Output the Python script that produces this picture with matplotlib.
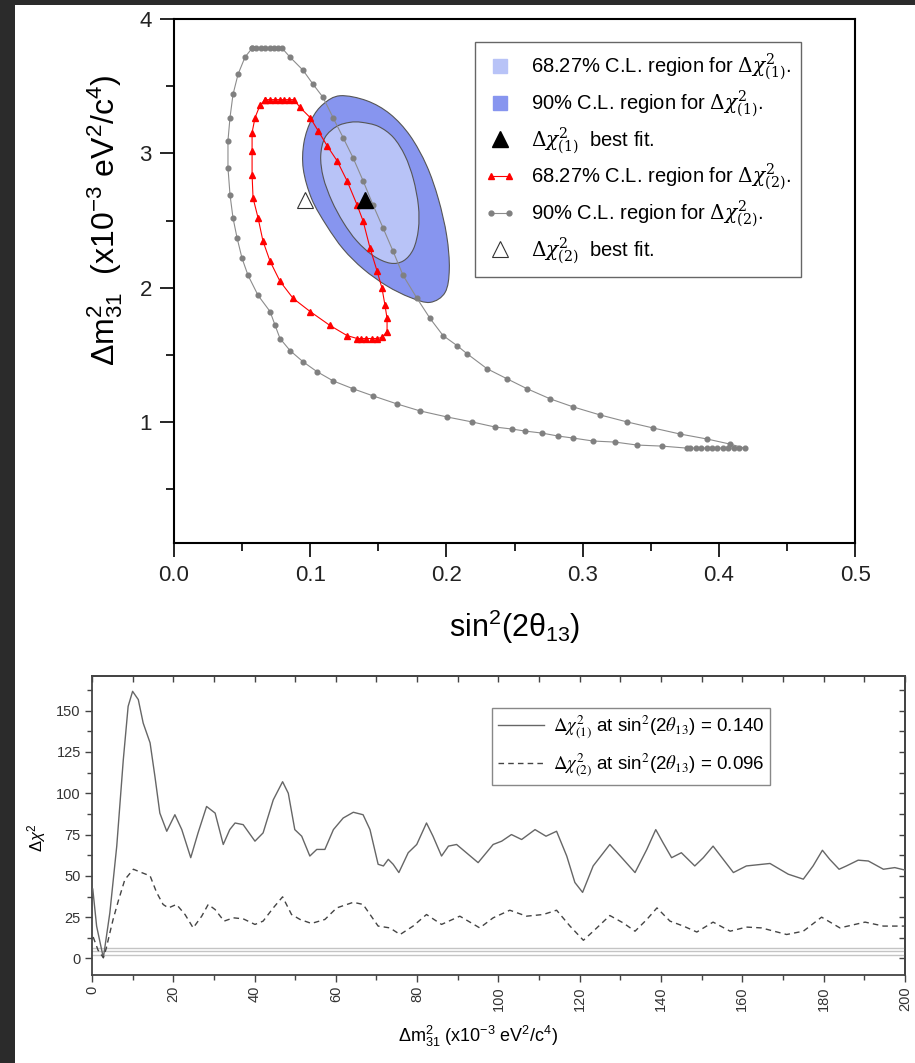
import numpy as np
import matplotlib
matplotlib.use("Agg")
import matplotlib.pyplot as plt
from matplotlib.lines import Line2D
from matplotlib.patches import Rectangle, PathPatch
from matplotlib.path import Path
from matplotlib.legend_handler import HandlerLine2D
from matplotlib.font_manager import FontProperties
from matplotlib.ticker import MultipleLocator, FormatStrFormatter

plt.rcParams['font.family'] = ['Liberation Sans', 'DejaVu Sans']
plt.rcParams['mathtext.fontset'] = 'custom'
plt.rcParams['mathtext.rm'] = 'Liberation Sans'
plt.rcParams['mathtext.it'] = 'Liberation Sans:italic'
plt.rcParams['mathtext.bf'] = 'Liberation Sans:bold'
plt.rcParams['mathtext.sf'] = 'Liberation Sans'

# ---- top panel data: sin^2(2theta13) vs dm^2_31 (1e-3 eV^2) ----
# chi2_(1) confidence regions, boundary points
c90_x = [0.1219, 0.1415, 0.1586, 0.1733, 0.1855, 0.1941, 0.2002, 0.2021, 0.1990, 0.1880,
         0.1733, 0.1562, 0.1390, 0.1243, 0.1121, 0.1011, 0.0949, 0.0954, 0.1011, 0.1096]
c90_y = [3.429, 3.392, 3.293, 3.131, 2.908, 2.660, 2.386, 2.139, 1.965, 1.891,
         1.928, 2.014, 2.139, 2.287, 2.461, 2.660, 2.883, 3.082, 3.255, 3.367]
c68_x = [0.1378, 0.1500, 0.1610, 0.1696, 0.1757, 0.1794, 0.1794, 0.1757, 0.1684, 0.1586,
         0.1463, 0.1341, 0.1243, 0.1158, 0.1096, 0.1077, 0.1109, 0.1195, 0.1292]
c68_y = [3.231, 3.201, 3.119, 2.982, 2.809, 2.610, 2.436, 2.287, 2.200, 2.183,
         2.238, 2.349, 2.486, 2.647, 2.821, 2.982, 3.119, 3.201, 3.231]

fit_1 = (0.140, 2.65)
fit_2 = (0.096, 2.65)

red_x = [0.0668, 0.0705, 0.0740, 0.0775, 0.0810, 0.0845, 0.0881,
         0.0925, 0.0999, 0.1057, 0.1123, 0.1197, 0.1270, 0.1344, 0.1388, 0.1439,
         0.1491, 0.1527, 0.1549, 0.1564, 0.1564,
         0.1527, 0.1490, 0.1450, 0.1410, 0.1375, 0.1344,
         0.1270, 0.1145, 0.0999, 0.0874, 0.0778, 0.0705, 0.0653, 0.0617, 0.0580,
         0.0573, 0.0573, 0.0573, 0.0595, 0.0631, 0.0668]
red_y = [3.40, 3.40, 3.40, 3.40, 3.40, 3.40, 3.40,
         3.342, 3.267, 3.170, 3.058, 2.945, 2.796, 2.616, 2.497, 2.295,
         2.123, 1.996, 1.868, 1.771, 1.674,
         1.630, 1.622, 1.622, 1.622, 1.622, 1.622,
         1.644, 1.719, 1.823, 1.921, 2.048, 2.197, 2.347, 2.519, 2.669,
         2.841, 3.020, 3.155, 3.267, 3.357, 3.40]

gray_x = [0.0573, 0.0605, 0.0637, 0.0669, 0.0701, 0.0733, 0.0765, 0.0793,
          0.0852, 0.0947, 0.1021, 0.1094, 0.1167, 0.1241, 0.1314, 0.1388, 0.1461,
          0.1535, 0.1608, 0.1681, 0.1784, 0.1880, 0.1975, 0.2078, 0.2151, 0.2298,
          0.2445, 0.2592, 0.2761, 0.2930, 0.3128, 0.3326, 0.3517, 0.3715, 0.3913, 0.4082,
          0.4192, 0.4150, 0.4110, 0.4070, 0.4030, 0.3990, 0.3950, 0.3910, 0.3870,
          0.3830, 0.3790, 0.3767,
          0.3583, 0.3399, 0.3238, 0.3076, 0.2930, 0.2819, 0.2702, 0.2577, 0.2482,
          0.2357, 0.2188, 0.2004, 0.1806, 0.1637, 0.1461, 0.1314, 0.1167, 0.1050,
          0.0947, 0.0852, 0.0778, 0.0742, 0.0705, 0.0617, 0.0543, 0.0499, 0.0463,
          0.0433, 0.0411, 0.0396, 0.0396, 0.0411, 0.0433, 0.0470, 0.0521, 0.0573]
gray_y = [3.783, 3.783, 3.783, 3.783, 3.783, 3.783, 3.783, 3.783,
          3.716, 3.619, 3.514, 3.417, 3.267, 3.118, 2.968, 2.796, 2.616,
          2.444, 2.272, 2.093, 1.921, 1.771, 1.644, 1.569, 1.509, 1.397,
          1.322, 1.248, 1.173, 1.113, 1.053, 1.001, 0.956, 0.911, 0.874, 0.836,
          0.806, 0.806, 0.806, 0.806, 0.806, 0.806, 0.806, 0.806, 0.806,
          0.806, 0.806, 0.806,
          0.821, 0.829, 0.851, 0.859, 0.881, 0.896, 0.918, 0.933, 0.948,
          0.963, 1.001, 1.038, 1.083, 1.135, 1.195, 1.248, 1.307, 1.375,
          1.449, 1.532, 1.622, 1.720, 1.823, 1.943, 2.093, 2.220, 2.370,
          2.519, 2.691, 2.893, 3.095, 3.267, 3.439, 3.589, 3.716, 3.783]

# ---- bottom panel data: delta chi2 vs dm^2_31 ----
solid_pts = [(0.2, 42), (1.15, 19.5), (2.8, 0.4), (4.4, 27.6), (6.1, 68), (7.7, 120),
             (8.9, 152.6), (10.0, 161.7), (11.4, 156.7), (12.6, 142.5), (14.3, 130.5),
             (15.5, 110), (16.7, 88), (18.4, 77), (20.4, 87), (22.1, 78), (24.3, 61),
             (26.1, 76), (28.2, 92), (30.3, 88), (32.3, 69), (33.9, 78), (35.2, 82),
             (37.2, 81), (40.1, 71), (42.1, 76), (44.6, 96), (46.9, 107), (48.3, 100),
             (49.9, 78), (51.6, 74), (53.6, 62), (55.3, 66), (57.3, 66), (59.4, 78),
             (61.8, 85), (64.3, 88.5), (66.7, 87), (68.4, 78), (70.4, 57), (71.7, 56),
             (72.9, 60), (74.1, 57), (75.5, 52), (77.8, 64), (79.9, 69), (82.3, 82),
             (83.9, 74), (86.0, 62), (87.7, 68), (89.7, 69), (95.0, 58), (98.7, 69),
             (100.8, 71), (103.2, 75), (105.7, 72), (109.0, 78), (111.7, 74), (114.3, 77),
             (116.8, 62), (118.8, 46), (120.7, 40), (123.3, 56), (127.4, 69), (130.7, 60),
             (133.6, 52), (136.5, 66), (138.7, 78), (140.5, 70), (142.6, 61), (145.0, 64),
             (148.3, 56), (150.4, 61), (152.8, 68), (155.3, 60), (157.8, 52), (161.0, 56),
             (166.8, 57.5), (171.3, 51), (175.0, 48), (177.4, 56), (179.7, 65.5),
             (181.5, 60), (183.8, 54), (185.6, 56), (188.5, 59.5), (191.0, 59),
             (194.7, 54), (197.5, 55), (200.0, 53.5)]
dashed_pts = [(0.3, 13), (1.5, 5), (2.8, 0.5), (3.5, 6), (4.4, 15.5), (5.2, 23.6),
              (6.5, 35), (8.1, 47.8), (10.2, 54), (12.2, 52), (14.3, 50), (15.9, 40),
              (17.5, 32.7), (18.8, 30.6), (20.8, 32.7), (22.9, 26.6), (24.9, 18.5),
              (27.0, 25.6), (28.6, 32.7), (30.3, 29.6), (32.5, 22.6), (34.8, 24.6),
              (37.2, 24), (40.1, 20.6), (42.1, 22.6), (44.6, 30.6), (46.9, 37.3),
              (49.1, 26.6), (51.2, 23.6), (54.0, 21.2), (57.3, 23.6), (60.2, 30.6),
              (64.3, 34), (66.7, 32.7), (70.4, 19.6), (73.3, 18.5), (75.8, 14.5),
              (79.0, 19.6), (82.3, 26.6), (86.0, 20.6), (90.5, 25.6), (95.4, 18.5),
              (98.7, 24.6), (102.8, 29.2), (106.9, 25.6), (111.0, 26.6), (114.3, 29.2),
              (117.6, 19.6), (120.9, 11), (124.2, 18.5), (127.4, 26), (130.7, 21.5),
              (133.6, 16.5), (136.5, 23.6), (139.0, 30.6), (142.2, 22.6), (145.5, 19.6),
              (148.8, 16), (152.8, 22), (157.0, 16.5), (161.0, 19), (164.7, 18.5),
              (170.9, 14.5), (175.0, 16.5), (179.5, 25), (184.0, 18.5), (190.2, 22),
              (194.7, 19.6), (200.0, 19.6)]
cl_levels = [2.30, 4.61, 6.18]


def closed_smooth_path(xs, ys):
    # closed Catmull-Rom curve through the points, as cubic Bezier segments
    p = np.column_stack([xs, ys])
    n = len(p)
    verts = [p[0]]
    codes = [Path.MOVETO]
    for i in range(n):
        p0, p1, p2, p3 = p[i - 1], p[i], p[(i + 1) % n], p[(i + 2) % n]
        verts += [p1 + (p2 - p0) / 6, p2 - (p3 - p1) / 6, p2]
        codes += [Path.CURVE4] * 3
    verts.append(p[0])
    codes.append(Path.CLOSEPOLY)
    return Path(verts, codes)


fig = plt.figure(figsize=(9.15, 10.63), dpi=100)
fig.patch.set_facecolor('#2b2b2b')
fig.add_artist(Rectangle((15 / 915, 0), 1, 1 - 5 / 1063, transform=fig.transFigure,
                         facecolor='white', edgecolor='none', zorder=-10))

# ---------------- top panel ----------------
ax1 = fig.add_axes([0.1902, 0.4892, 0.7443, 0.4929])
c_light = '#b8c3f7'
c_dark = '#8795ef'
ax1.add_patch(PathPatch(closed_smooth_path(c90_x, c90_y), facecolor=c_dark,
                        edgecolor='#555555', lw=0.8, zorder=1))
ax1.add_patch(PathPatch(closed_smooth_path(c68_x, c68_y), facecolor=c_light,
                        edgecolor='#555555', lw=0.8, zorder=2))
ax1.plot(gray_x, gray_y, '-', color='#8c8c8c', lw=0.8, marker='o', ms=3.4,
         mfc='#808080', mec='#808080', zorder=3)
ax1.plot(red_x, red_y, '-', color='red', lw=0.8, marker='^', ms=4.4,
         mfc='red', mec='red', zorder=4)
ax1.plot(*fit_1, ls='none', marker='^', ms=11, mfc='black', mec='black', zorder=5)
ax1.plot(*fit_2, ls='none', marker='^', ms=11, mfc='white', mec='#333333', mew=0.8, zorder=5)

ax1.set_xlim(0, 0.5)
ax1.set_ylim(0.1, 4.0)
ax1.xaxis.set_major_locator(MultipleLocator(0.1))
ax1.xaxis.set_minor_locator(MultipleLocator(0.05))
ax1.yaxis.set_major_locator(MultipleLocator(1))
ax1.yaxis.set_minor_locator(MultipleLocator(0.5))
ax1.xaxis.set_major_formatter(FormatStrFormatter('%.1f'))
ax1.yaxis.set_major_formatter(FormatStrFormatter('%d'))
ax1.tick_params(which='major', direction='out', length=10, width=1.2,
                labelsize=16, pad=6, labelcolor='#222222')
ax1.tick_params(which='minor', direction='out', length=6, width=1.2)
for s in ax1.spines.values():
    s.set_linewidth(1.5)

ax1.set_xlabel(r"sin$^2$(2$\mathrm{\theta}_{13}$)", fontsize=22)
ax1.xaxis.set_label_coords(0.50, -0.123)
ax1.set_ylabel(r"$\Delta\mathrm{m}^2_{31}$  (x10$^{-3}$ eV$^2$/c$^4$)", fontsize=23)
ax1.yaxis.set_label_coords(-0.072, 0.616)

h1 = Line2D([], [], ls='none', marker='s', ms=10, mfc=c_light, mec=c_light)
h2 = Line2D([], [], ls='none', marker='s', ms=10, mfc=c_dark, mec=c_dark)
h3 = Line2D([], [], ls='none', marker='^', ms=11, mfc='black', mec='black')
h4 = Line2D([], [], ls='-', color='red', lw=0.8, marker='^', ms=4, mfc='red', mec='red')
h5 = Line2D([], [], ls='-', color='#8c8c8c', lw=0.8, marker='o', ms=3.5,
            mfc='#808080', mec='#808080')
h6 = Line2D([], [], ls='none', marker='^', ms=11, mfc='white', mec='#333333', mew=0.8)
labels = [r"68.27% C.L. region for $\Delta\chi^2_{(1)}$.",
          r"90% C.L. region for $\Delta\chi^2_{(1)}$.",
          r"$\Delta\chi^2_{(1)}$  best fit.",
          r"68.27% C.L. region for $\Delta\chi^2_{(2)}$.",
          r"90% C.L. region for $\Delta\chi^2_{(2)}$.",
          r"$\Delta\chi^2_{(2)}$  best fit."]
hmap = {h1: HandlerLine2D(numpoints=1), h2: HandlerLine2D(numpoints=1),
        h3: HandlerLine2D(numpoints=1), h4: HandlerLine2D(numpoints=2),
        h5: HandlerLine2D(numpoints=2), h6: HandlerLine2D(numpoints=1)}
leg1 = ax1.legend([h1, h2, h3, h4, h5, h6], labels, handler_map=hmap,
                  loc='upper left', bbox_to_anchor=(0.442, 0.956),
                  prop=FontProperties(family='Liberation Sans', size=14.5,
                                      math_fontfamily='dejavuserif'),
                  frameon=True, fancybox=False, framealpha=1, edgecolor='#666666',
                  labelspacing=0.28, handlelength=1.5, handletextpad=0.8,
                  borderpad=0.5, borderaxespad=0)
leg1.get_frame().set_linewidth(1.0)

# ---------------- bottom panel ----------------
ax2 = fig.add_axes([0.1005, 0.0828, 0.8885, 0.2813])
for lev in cl_levels:
    ax2.axhline(lev, color='#c4c4c4', lw=1.0, zorder=1)
sx, sy = zip(*solid_pts)
dx, dy = zip(*dashed_pts)
ax2.plot(sx, sy, '-', color='#666666', lw=1.0, zorder=3,
         label=r"$\Delta\chi^2_{(1)}$ at sin$^2$(2$\theta_{13}$) = 0.140")
ax2.plot(dx, dy, '--', color='#444444', lw=1.0, dashes=(4, 3), zorder=3,
         label=r"$\Delta\chi^2_{(2)}$ at sin$^2$(2$\theta_{13}$) = 0.096")
ax2.set_xlim(0, 200)
ax2.set_ylim(-10, 171)
ax2.xaxis.set_major_locator(MultipleLocator(20))
ax2.xaxis.set_minor_locator(MultipleLocator(10))
ax2.yaxis.set_major_locator(MultipleLocator(25))
ax2.yaxis.set_minor_locator(MultipleLocator(12.5))
ax2.tick_params(which='major', direction='out', length=5, width=1.0, color='#444444',
                labelsize=10.5, labelcolor='#333333', pad=3)
ax2.tick_params(which='minor', direction='out', length=3.5, width=1.0, color='#444444')
ax2.tick_params(axis='x', which='major', labelrotation=90)
for s in ax2.spines.values():
    s.set_linewidth(1.3)
    s.set_color('#444444')

top = ax2.secondary_xaxis('top')
top.xaxis.set_major_locator(MultipleLocator(10))
top.tick_params(direction='in', length=4, width=1.0, color='#444444', labeltop=False)
top.spines['top'].set_linewidth(1.3)
top.spines['top'].set_color('#444444')
right = ax2.secondary_yaxis('right')
right.yaxis.set_major_locator(MultipleLocator(12.5))
right.tick_params(direction='in', length=4, width=1.0, color='#444444', labelright=False)
right.spines['right'].set_linewidth(1.3)
right.spines['right'].set_color('#444444')

ax2.set_ylabel(r"$\Delta\chi^2$", fontsize=12)
ax2.yaxis.set_label_coords(-0.054, 0.46)
ax2.set_xlabel(r"$\Delta\mathrm{m}^2_{31}$ (x10$^{-3}$ eV$^2$/c$^4$)", fontsize=13)
ax2.xaxis.set_label_coords(0.475, -0.165)

leg2 = ax2.legend(loc='upper left', bbox_to_anchor=(0.492, 0.893),
                  prop=FontProperties(family='Liberation Sans', size=13.5, math_fontfamily='stix'),
                  frameon=True, fancybox=False, framealpha=1, edgecolor='#888888',
                  handlelength=2.5, handletextpad=0.45, borderpad=0.3,
                  labelspacing=0.55, borderaxespad=0)
leg2.get_frame().set_linewidth(1.0)

fig.savefig('out.png', dpi=100, facecolor=fig.get_facecolor())
